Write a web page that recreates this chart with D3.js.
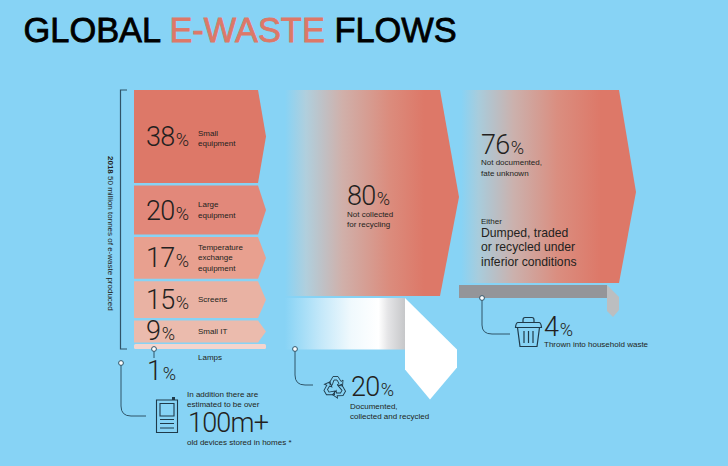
<!DOCTYPE html>
<html><head><meta charset="utf-8">
<script src="https://cdn.jsdelivr.net/npm/d3@7"></script>
<style>html,body{margin:0;padding:0;background:#87D3F5}svg{display:block}text{font-family:"Liberation Sans",Arial,sans-serif;fill:#231F20}.big{font-family:Roboto,sans-serif;font-weight:300}</style>
</head><body><svg id="c" width="728" height="466"></svg>
<script>
const categories=["Small equipment","Large equipment","Temperature exchange equipment","Screens","Small IT","Lamps"];
const categoryLines=[["Small","equipment"],["Large","equipment"],["Temperature","exchange","equipment"],["Screens"],["Small IT"],["Lamps"]];
const categoryValues=[38,20,17,15,9,1];
const categoryColors=["#DD7868","#E2887A","#E8A08F","#E9B2A3","#EBBBAD","#F4D5CE"];
const flowValues=[80,20];
const fateValues=[76,4];
const titleParts=["GLOBAL ","E-WASTE"," FLOWS"];

const svg=d3.select("#c");
const BG="#87D3F5",RED="#DD7868",LINE="#2F5468",ICON="#1F3A4A";
const hCat=d3.scaleLinear().domain([0,100]).range([0,245]);
const hFlow=d3.scaleLinear().domain([0,100]).range([0,257.5]);
const hFate=d3.scaleLinear().domain([0,100]).range([0,254]);
const line=d3.line();
const defs=svg.append("defs");
function grad(id,stops){const g=defs.append("linearGradient").attr("id",id);
 stops.forEach(([o,c])=>g.append("stop").attr("offset",o).attr("stop-color",c));return `url(#${id})`;}
function pct(g,x,y,val,size,psize){
 const t=g.append("text").attr("x",x).attr("y",y).attr("class","big");
 t.append("tspan").attr("font-size",size).attr("letter-spacing",-0.8).text(val);
 t.append("tspan").attr("font-size",psize||size*0.68).attr("dx",1.5).text("%");}
function txt(x,y,s,size){return svg.append("text").attr("x",x).attr("y",y).attr("font-size",size).text(s);}
function dot(x,y){svg.append("circle").attr("cx",x).attr("cy",y).attr("r",2.4).attr("fill","#fff").attr("stroke",LINE).attr("stroke-width",1);}

// title
const title=svg.append("text").attr("x",23.5).attr("y",42).attr("font-size",34.4).attr("style","font-family:'Liberation Sans';font-weight:400;stroke-width:.8px").attr("stroke","#000");
titleParts.forEach((p,i)=>title.append("tspan").attr("xml:space","preserve").style("white-space","pre").style("fill",i==1?RED:"#000").attr("stroke",i==1?RED:"#000").text(p));

// category arrows
let y=90;
categories.forEach((c,i)=>{
 const v=categoryValues[i];
 if(i<5){
  const h=hCat(v),m=y+h/2;
  svg.append("path").attr("d",line([[134,y],[258,y],[266,m],[258,y+h],[134,y+h]])+"Z").attr("fill",categoryColors[i]);
  pct(svg,146,m+(i==4?8.5:9.5),v,27,18);
  const ls=categoryLines[i],ly=m+(i==0?4.5:2.5)-(ls.length-1)*5.2;
  ls.forEach((l,j)=>txt(198,ly+j*10.4,l,8));
  y+=h+2.5;
 } else {
  svg.append("rect").attr("x",134).attr("y",344).attr("width",132).attr("height",Math.max(hCat(v),5)).attr("rx",1.5).attr("fill",categoryColors[i]);
  txt(198,360,categoryLines[i][0],8);
  pct(svg,147,380,v,27,18);
 }
});

// bracket & side label
svg.append("path").attr("d","M127 90H120.5V349H127").attr("fill","none").attr("stroke",LINE).attr("stroke-width",1.2);
const sl=svg.append("text").attr("transform","translate(108,156) rotate(90)").attr("font-size",8);
sl.append("tspan").attr("font-weight","bold").text("2018");sl.append("tspan").text(" 50 million tonnes of e-waste produced");

// middle flows
const fRed=grad("fr",[[0,BG],[.12,"#B0CFDD"],[.33,"#D0B0AA"],[.6,"#DB8C7D"],[.8,RED],[1,RED]]);
const h80=hFlow(flowValues[0]),h20=hFlow(flowValues[1]);
svg.append("path").attr("d",line([[285,90],[440,90],[459,90+h80*.52],[440,90+h80],[285,90+h80]])+"Z").attr("fill",fRed);
const y20=90+h80+2;
const fWhite=grad("fw",[[0,BG],[.3,"#C4E8F9"],[.55,"#F0F9FD"],[.78,"#FFFFFF"],[.86,"#E4E4E6"],[1,"#C6C7C9"]]);
svg.append("rect").attr("x",285).attr("y",y20).attr("width",120).attr("height",h20).attr("fill",fWhite);
svg.append("path").attr("d",line([[405,y20],[457,y20+h20],[457,y20+h20+18],[430,y20+h20+50],[405,y20+h20+20]])+"Z").attr("fill","#fff");
pct(svg,347,205,flowValues[0],27,18);
txt(347,217,"Not collected",8);txt(347,227,"for recycling",8);

// right flows
const fR2=grad("fr2",[[0,BG],[.1,"#A8CCDC"],[.3,"#CBB1AD"],[.55,"#DA8E80"],[.8,RED],[1,RED]]);
const h76=hFate(fateValues[0]);
svg.append("path").attr("d",line([[461,90],[619,90],[636,192],[619,90+h76],[461,90+h76]])+"Z").attr("fill",fR2);
const h4=Math.max(hFate(fateValues[1]),13);
svg.append("rect").attr("x",459).attr("y",285).attr("width",148).attr("height",h4).attr("fill","#949599");
svg.append("path").attr("d",line([[607,285],[619,297],[619,310],[613,317],[607,311]])+"Z").attr("fill","#BCBEC0");
pct(svg,481,153.5,fateValues[0],27,18);
txt(481,165,"Not documented,",8);txt(481,175.5,"fate unknown",8);
txt(481,224,"Either",8);
["Dumped, traded","or recycled under","inferior conditions"].forEach((s,i)=>txt(481,237+i*14.4,s,12.2));

// leaders
const stroke=(d,c,w)=>svg.append("path").attr("d",d).attr("fill","none").attr("stroke",c||LINE).attr("stroke-width",w||1);
stroke("M154 349V358");dot(154,349);
stroke("M121 363V406Q121 416 131 416H146");dot(121,363);
stroke("M295 349V375Q295 385 305 385H313");dot(295,349);
stroke("M482 298V325Q482 334 492 334H510");dot(482,298);

// device icon
stroke("M156.5 400H177.5V432.5H156.5Z",ICON,1.1);
stroke("M160 403.5H174V416H160Z",ICON,1.1);
stroke("M160 419.5H174M160 423.5H174M160 428H174",ICON,1.1);
svg.append("rect").attr("x",172).attr("y",397).attr("width",3).attr("height",3).attr("fill",ICON);
txt(187,397,"In addition there are",8);
txt(187,406.5,"estimated to be over",8);
svg.append("text").attr("x",188).attr("y",432).attr("class","big").attr("font-size",27).attr("letter-spacing",-0.8).text("100m+");
txt(187,444.5,"old devices stored in homes *",8);

// recycle icon
const rec=svg.append("g").attr("transform","translate(335,387.5)").attr("fill","none").attr("stroke",ICON).attr("stroke-width",.9);
[0,120,240].forEach(a=>rec.append("path").attr("transform",`rotate(${a})`)
 .attr("d","M-6 -4L-2 -11H3L6 -6L8 -7.5L7.5 -1.5L2 -2.5L4 -4L2 -7.5L-1 -7.5L-3 -2Z"));
pct(svg,351,396,flowValues[1],27,18);
txt(350,409,"Documented,",8);txt(350,419,"collected and recycled",8);

// trash icon
stroke("M515.5 327.5H541.5Q541 322.5 539 322.5H518Q516 322.5 515.5 327.5Z",ICON,1.2);
stroke("M523 322.5V320Q523 317.5 525 317.5H532Q534 317.5 534 320V322.5",ICON,1.2);
stroke("M517.5 327.5L520 346.5H537L539.5 327.5",ICON,1.2);
stroke("M524 331V343M528.5 331V343M533 331V343",ICON,1.2);
pct(svg,544,336,fateValues[1],27,18);
txt(544,346.5,"Thrown into household waste",8);
</script></body></html>
